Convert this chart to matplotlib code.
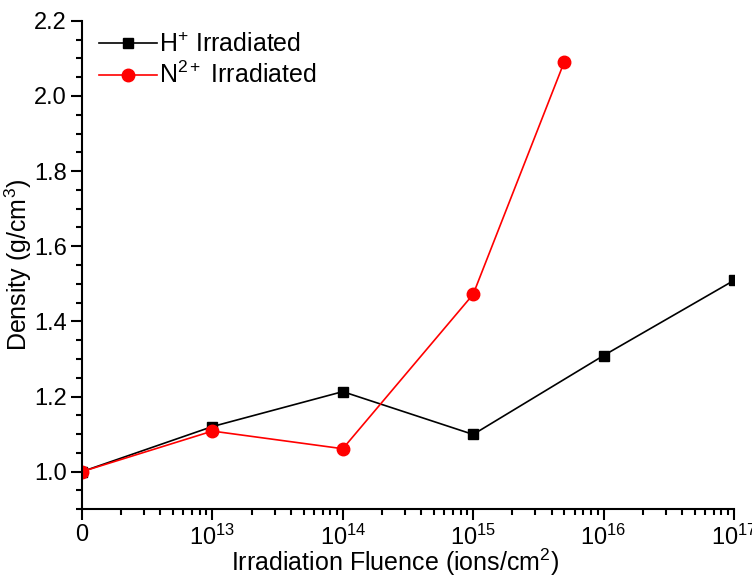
import matplotlib
matplotlib.use("Agg")
import matplotlib.pyplot as plt
from matplotlib.ticker import FixedLocator, LogLocator, MultipleLocator, FormatStrFormatter

# Unirradiated samples sit at the 1e12 position of the log axis, labelled "0"
h_fluence = [1e12, 1e13, 1e14, 1e15, 1e16, 1e17]
h_density = [1.000, 1.120, 1.213, 1.099, 1.309, 1.509]

n_fluence = [1e12, 1e13, 1e14, 1e15, 5e15]
n_density = [1.000, 1.108, 1.061, 1.472, 2.091]

xtick_vals = [1e12, 1e13, 1e14, 1e15, 1e16, 1e17]
xtick_labels = ["0", "$10^{13}$", "$10^{14}$", "$10^{15}$", "$10^{16}$", "$10^{17}$"]

plt.rcParams["font.family"] = ["Liberation Sans", "DejaVu Sans"]
plt.rcParams["mathtext.fontset"] = "custom"
plt.rcParams["mathtext.rm"] = "Liberation Sans"
plt.rcParams["mathtext.it"] = "Liberation Sans"

fig = plt.figure(figsize=(7.52, 5.78), dpi=100)
ax = fig.add_axes([0.109, 0.119, 0.867, 0.845])

ax.plot(h_fluence, h_density, color="black", lw=1.2, marker="s", ms=7.5,
        label="H$^{+}$ Irradiated")
ax.plot(n_fluence, n_density, color="red", lw=1.2, marker="o", ms=9,
        label="N$^{2+}$ Irradiated")

ax.set_xscale("log")
ax.set_xlim(1e12, 1e17)
ax.set_ylim(0.9, 2.2)

ax.xaxis.set_major_locator(FixedLocator(xtick_vals))
ax.set_xticklabels(xtick_labels)
ax.xaxis.set_minor_locator(LogLocator(base=10, subs=range(2, 10), numticks=20))
ax.yaxis.set_major_locator(MultipleLocator(0.2))
ax.yaxis.set_minor_locator(MultipleLocator(0.05))
ax.yaxis.set_major_formatter(FormatStrFormatter("%.1f"))

for side in ("top", "right"):
    ax.spines[side].set_visible(False)
for side in ("left", "bottom"):
    ax.spines[side].set_linewidth(1.5)

ax.tick_params(which="major", direction="out", length=8, width=1.5,
               labelsize=17, pad=3)
ax.tick_params(which="minor", direction="out", length=4, width=1.5)

ax.set_xlabel("Irradiation Fluence (ions/cm$^{2}$)", fontsize=18, labelpad=-2)
ax.xaxis.label.set_x(0.48)
ax.set_ylabel("Density (g/cm$^{3}$)", fontsize=18, labelpad=0)

ax.legend(loc="upper left", bbox_to_anchor=(0.011, 0.996), frameon=False,
          fontsize=18, handlelength=2.3, handletextpad=0.1, labelspacing=0.2,
          borderaxespad=0.0)

fig.savefig("out.png", dpi=100)
